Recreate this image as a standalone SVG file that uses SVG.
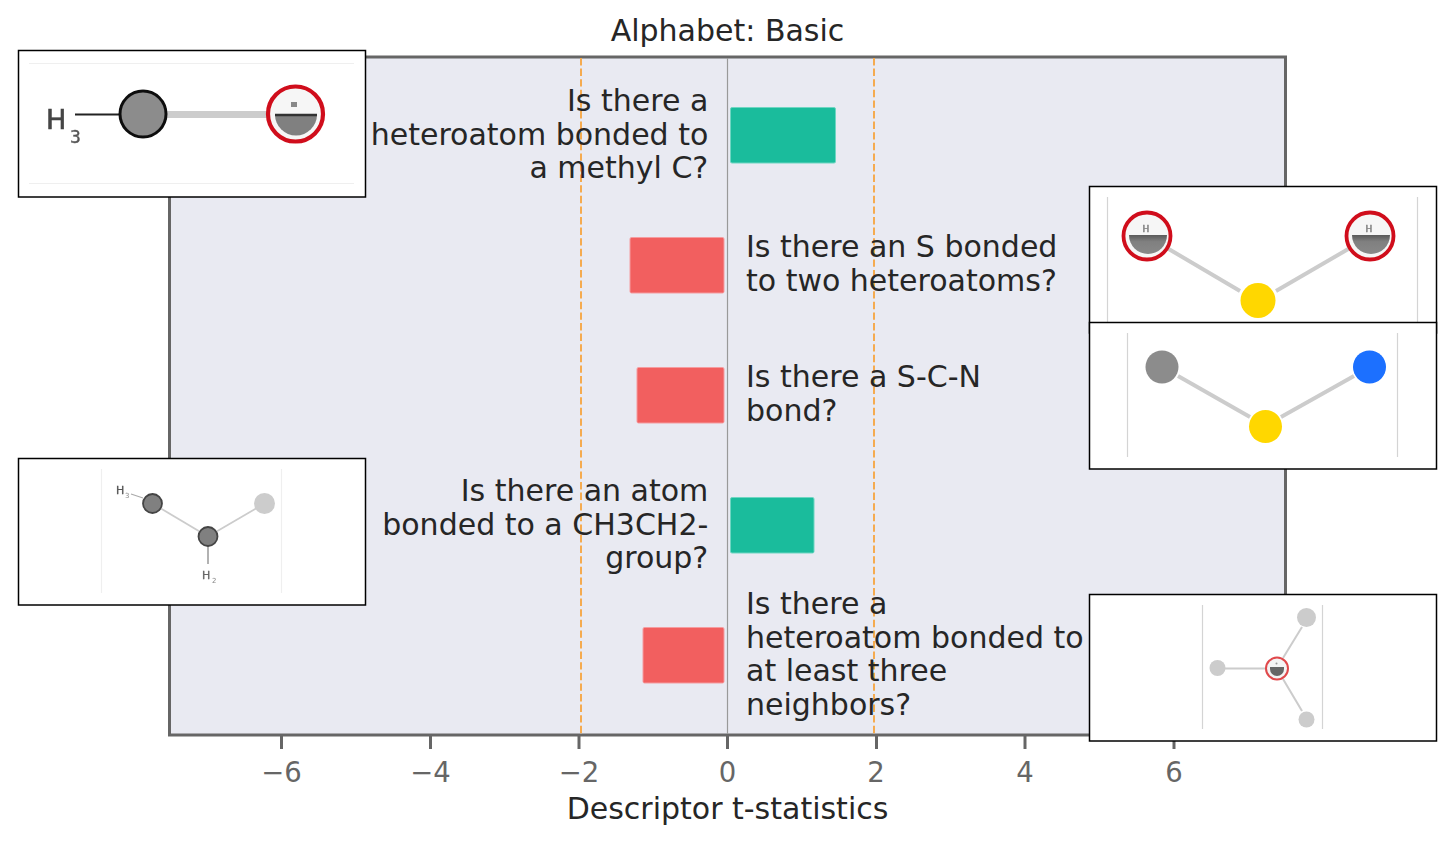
<svg xmlns="http://www.w3.org/2000/svg" width="1454" height="844" viewBox="0 0 1454 844">
<style>
text{font-family:"DejaVu Sans",sans-serif;fill:#262626}
.l{font-size:30px}
.r{text-anchor:end}
.t{font-size:27.5px;fill:#666;text-anchor:middle}
.c{font-size:30px;text-anchor:middle}
.tick{stroke:#666;stroke-width:3}
.dash{stroke:#f5ab50;stroke-width:2;stroke-dasharray:7.4 3.2}
.g{fill:#1abc9c;stroke:#6fd6c2;stroke-width:1}
.p{fill:#f25f5f;stroke:#f59ca0;stroke-width:1}
.frame{fill:#fff;stroke:#000;stroke-width:1.5}
.b{stroke:#ccc;fill:none}
.guide{stroke:#d4d4d4;stroke-width:1.2}
.guide2{stroke:#efefef;stroke-width:1.2}
.red{fill:#f6f6f6;stroke:#d0101a}
.half{fill:#808080}
.m{fill:#777;stroke:#777;stroke-width:0.4;text-anchor:middle}
</style>
<defs>
<filter id="soft" x="-5%" y="-5%" width="110%" height="110%"><feGaussianBlur stdDeviation="0.7"/></filter>
<filter id="softer" x="-5%" y="-5%" width="110%" height="110%"><feGaussianBlur stdDeviation="0.7"/></filter>
<linearGradient id="hg" x1="0" y1="0" x2="0" y2="1"><stop offset="0" stop-color="#5a5a5a"/><stop offset="0.35" stop-color="#808080"/><stop offset="1" stop-color="#888"/></linearGradient>
</defs>
<rect width="1454" height="844" fill="#fff"/>
<g id="plot">
<rect x="169.500" y="57" width="1116" height="678" fill="#e9eaf2" stroke="#666" stroke-width="3"/>
<g class="tick">
<line x1="281.500" y1="736" x2="281.500" y2="749"/><line x1="430.500" y1="736" x2="430.500" y2="749"/><line x1="579" y1="736" x2="579" y2="749"/><line x1="727.500" y1="736" x2="727.500" y2="749"/><line x1="876.500" y1="736" x2="876.500" y2="749"/><line x1="1025" y1="736" x2="1025" y2="749"/><line x1="1174" y1="736" x2="1174" y2="749"/>
</g>
<text class="t" x="281.500" y="781.500">−6</text><text class="t" x="430.500" y="781.500">−4</text><text class="t" x="579" y="781.500">−2</text><text class="t" x="727.500" y="781.500">0</text><text class="t" x="876" y="781.500">2</text><text class="t" x="1025" y="781.500">4</text><text class="t" x="1174" y="781.500">6</text>
<text class="c" x="727.500" y="41.300">Alphabet: Basic</text>
<text class="c" x="727.500" y="819.400">Descriptor t-statistics</text>
</g>
<g id="connectors">
<line x1="727.500" y1="58" x2="727.500" y2="734" stroke="#999" stroke-width="1.200"/>
<line class="dash" x1="581" y1="58" x2="581" y2="734"/>
<line class="dash" x1="874" y1="58" x2="874" y2="734"/>
</g>
<g id="bars">
<rect class="g" x="730.500" y="107.500" width="105" height="55.500" rx="1.500"/>
<rect class="p" x="630" y="237.500" width="94" height="55.500" rx="1.500"/>
<rect class="p" x="637" y="367.500" width="87" height="55.500" rx="1.500"/>
<rect class="g" x="730.500" y="497.500" width="83.500" height="55.500" rx="1.500"/>
<rect class="p" x="643" y="627.500" width="81" height="55.500" rx="1.500"/>
</g>
<g id="label-1"><text class="l r" x="708.300" y="111.300">Is there a</text><text class="l r" x="708.300" y="144.500">heteroatom bonded to</text><text class="l r" x="708.300" y="178.300">a methyl C?</text></g>
<g id="label-2"><text class="l" x="746" y="257.300">Is there an S bonded</text><text class="l" x="746" y="291.300">to two heteroatoms?</text></g>
<g id="label-3"><text class="l" x="746" y="387.300">Is there a S-C-N</text><text class="l" x="746" y="421.300">bond?</text></g>
<g id="label-4"><text class="l r" x="708.300" y="501.300">Is there an atom</text><text class="l r" x="708.300" y="534.500">bonded to a CH3CH2-</text><text class="l r" x="708.300" y="568.300">group?</text></g>
<g id="label-5"><text class="l" x="746" y="614.300">Is there a</text><text class="l" x="746" y="648.300">heteroatom bonded to</text><text class="l" x="746" y="681.300">at least three</text><text class="l" x="746" y="715.300">neighbors?</text></g>
<g id="inset-1">
<rect class="frame" x="18.500" y="50.500" width="347" height="146.500"/>
<line class="guide2" x1="29" y1="63.500" x2="354" y2="63.500"/><line class="guide2" x1="29" y1="183.500" x2="354" y2="183.500"/>
<g filter="url(#soft)">
<line class="b" x1="166" y1="114.500" x2="268" y2="114.500" stroke-width="7"/>
<line x1="75" y1="114.500" x2="120" y2="114.500" stroke="#222" stroke-width="2"/>
<circle cx="143" cy="114" r="23" fill="#8c8c8c" stroke="#111" stroke-width="3"/>
<circle class="red" cx="295.500" cy="114" r="27.500" stroke-width="4.200"/>
<path class="half" d="M275 114.500H317A21 21 0 0 1 275 114.500Z"/>
<line x1="275" y1="115" x2="317" y2="115" stroke="#333" stroke-width="2.500"/>
<rect x="291" y="102" width="6" height="5" fill="#888"/>
<text x="46" y="129" font-size="27" style="fill:#444;stroke:#444;stroke-width:0.6">H</text>
<text x="70" y="143" font-size="17" style="fill:#555;stroke:#555;stroke-width:0.4">3</text>
</g>
</g>
<g id="inset-2">
<rect class="frame" x="1089.500" y="186.500" width="347" height="146.500"/>
<line class="guide" x1="1107.500" y1="197" x2="1107.500" y2="322"/><line class="guide" x1="1417.500" y1="197" x2="1417.500" y2="322"/>
<g filter="url(#soft)">
<line class="b" x1="1167" y1="248" x2="1240" y2="291" stroke-width="4"/>
<line class="b" x1="1350" y1="248" x2="1276" y2="291" stroke-width="4"/>
<circle cx="1258" cy="300.500" r="17.500" fill="#ffd700"/>
<circle class="red" cx="1147" cy="236" r="23.500" stroke-width="3.800"/>
<path d="M1129 235H1167A18 18 0 0 1 1129 235Z" fill="url(#hg)"/>
<circle class="red" cx="1370" cy="236" r="23.500" stroke-width="3.800"/>
<path d="M1352 235H1390A18 18 0 0 1 1352 235Z" fill="url(#hg)"/>
<text class="m" x="1146" y="232" font-size="9">H</text>
<text class="m" x="1369" y="232" font-size="9">H</text>
</g>
</g>
<g id="inset-3">
<rect class="frame" x="1089.500" y="322.500" width="347" height="146.500"/>
<line class="guide" x1="1127.500" y1="333" x2="1127.500" y2="457"/><line class="guide" x1="1397.500" y1="333" x2="1397.500" y2="457"/>
<g filter="url(#soft)">
<line class="b" x1="1178" y1="376" x2="1250" y2="417" stroke-width="4"/>
<line class="b" x1="1354" y1="376" x2="1281" y2="417" stroke-width="4"/>
<circle cx="1162" cy="367" r="16.500" fill="#8c8c8c"/>
<circle cx="1369.500" cy="367" r="16.500" fill="#1a6fff"/>
<circle cx="1265.500" cy="426.500" r="16.500" fill="#ffd700"/>
</g>
</g>
<g id="inset-4">
<rect class="frame" x="18.500" y="458.500" width="347" height="146.500"/>
<line class="guide2" x1="101.500" y1="469" x2="101.500" y2="593"/><line class="guide2" x1="281.500" y1="469" x2="281.500" y2="593"/>
<g filter="url(#softer)">
<line class="b" x1="152.500" y1="503.500" x2="208" y2="536.500" stroke-width="1.800"/>
<line class="b" x1="208" y1="536.500" x2="264.500" y2="503.500" stroke-width="1.800"/>
<line x1="208" y1="546" x2="208" y2="564" stroke="#aaa" stroke-width="1.800"/>
<line x1="131" y1="494" x2="143" y2="498" stroke="#aaa" stroke-width="1.200"/>
<circle cx="152.500" cy="503.500" r="9.500" fill="#808080" stroke="#444" stroke-width="1.800"/>
<circle cx="208" cy="536.500" r="9.500" fill="#808080" stroke="#444" stroke-width="1.800"/>
<circle cx="264.500" cy="503.500" r="10.500" fill="#ccc"/>
<text x="116" y="494" font-size="11" style="fill:#555;stroke:#555;stroke-width:0.3">H</text><text x="125" y="498" font-size="7" style="fill:#888">3</text>
<text x="202" y="579" font-size="11" style="fill:#666;stroke:#666;stroke-width:0.3">H</text><text x="212" y="583" font-size="7" style="fill:#888">2</text>
</g>
</g>
<g id="inset-5">
<rect class="frame" x="1089.500" y="594.500" width="347" height="146.500"/>
<line class="guide" x1="1202.500" y1="605" x2="1202.500" y2="729"/><line class="guide" x1="1322.500" y1="605" x2="1322.500" y2="729"/>
<g filter="url(#soft)">
<line class="b" x1="1225" y1="668.500" x2="1267" y2="668.500" stroke-width="2"/>
<line class="b" x1="1283" y1="658" x2="1302" y2="627" stroke-width="2"/>
<line class="b" x1="1283" y1="679" x2="1302" y2="711" stroke-width="2"/>
<circle cx="1306.500" cy="617.500" r="9.500" fill="#ccc"/>
<circle cx="1217.500" cy="668" r="8" fill="#ccc"/>
<circle cx="1306.500" cy="719.500" r="8" fill="#ccc"/>
<circle cx="1277" cy="668.500" r="11" fill="#f4f4f4" stroke="#e0484c" stroke-width="2"/>
<path d="M1270 667H1284V669A7 7 0 0 1 1270 669Z" fill="#666"/>
<circle cx="1276.500" cy="663.500" r="1" fill="#999"/>
</g>
</g>
</svg>
